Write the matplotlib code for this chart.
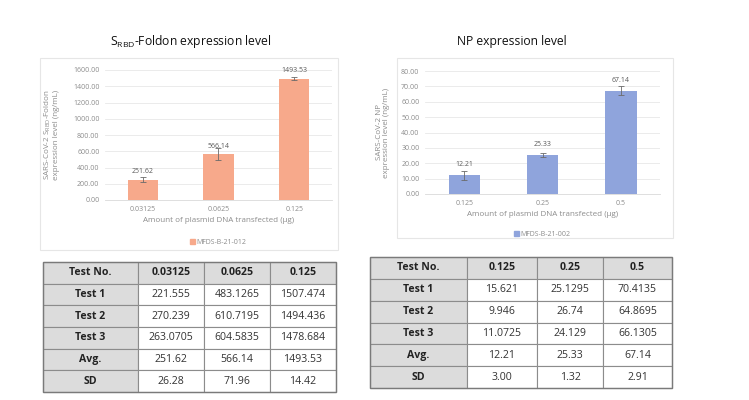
import numpy as np
import matplotlib.pyplot as plt
from matplotlib.patches import Rectangle

plt.rcParams['font.family'] = ['Open Sans', 'DejaVu Sans']

# data
s_doses = ["0.03125", "0.0625", "0.125"]
s_test1 = [221.555, 483.1265, 1507.474]
s_test2 = [270.239, 610.7195, 1494.436]
s_test3 = [263.0705, 604.5835, 1478.684]
s_avg = [251.62, 566.14, 1493.53]
s_sd = [26.28, 71.96, 14.42]

np_doses = ["0.125", "0.25", "0.5"]
np_test1 = [15.621, 25.1295, 70.4135]
np_test2 = [9.946, 26.74, 64.8695]
np_test3 = [11.0725, 24.129, 66.1305]
np_avg = [12.21, 25.33, 67.14]
np_sd = [3.00, 1.32, 2.91]

W, H = 749, 400
fig = plt.figure(figsize=(W / 100, H / 100), dpi=100)


def box(x0, y0, x1, y1):
    # pixel box (top-left origin) -> figure fraction rect
    return [x0 / W, 1 - y1 / H, (x1 - x0) / W, (y1 - y0) / H]


def panel(x0, y0, x1, y1):
    r = box(x0, y0, x1, y1)
    fig.patches.append(Rectangle((r[0], r[1]), r[2], r[3], transform=fig.transFigure,
                                 fill=False, edgecolor='#E6E6E6', linewidth=0.8))


def bar_chart(rect, doses, avg, sd, color, ymax, step, ylabel, legend, label_off, ylab_x):
    ax = fig.add_axes(rect)
    x = np.arange(len(doses))
    ax.bar(x, avg, width=0.4, color=color, zorder=2)
    ax.errorbar(x, avg, yerr=sd, fmt='none', ecolor='#6A6A6A', elinewidth=0.6,
                capsize=2, capthick=0.6, zorder=3)
    for xi, v in zip(x, avg):
        ax.annotate(f"{v:.2f}", (xi, v), xytext=(0, label_off), textcoords='offset points',
                    ha='center', va='bottom', fontsize=5, color='#595959')
    ax.set_xlim(-0.5, len(doses) - 0.5)
    ax.set_ylim(0, ymax)
    ticks = np.arange(0, ymax + step / 2, step)
    ax.set_yticks(ticks)
    ax.set_yticklabels([f"{t:.2f}" for t in ticks], fontsize=5, color='#8C8C8C')
    ax.set_xticks(x)
    ax.set_xticklabels(doses, fontsize=5, color='#8C8C8C')
    ax.tick_params(length=0, pad=4)
    ax.grid(axis='y', color='#E8E8E8', linewidth=0.6, zorder=0)
    for s in ['top', 'right', 'left']:
        ax.spines[s].set_visible(False)
    ax.spines['bottom'].set_color('#D9D9D9')
    ax.spines['bottom'].set_linewidth(0.6)
    ax.set_xlabel("Amount of plasmid DNA transfected (\u03bcg)", fontsize=5.8,
                  color='#8C8C8C', labelpad=3)
    ax.set_ylabel(ylabel, fontsize=5.8, color='#8C8C8C', linespacing=1.0)
    ax.yaxis.set_label_coords(ylab_x, 0.5)
    leg = ax.legend([Rectangle((0, 0), 1, 1, color=color)], [legend], loc='upper center',
                    bbox_to_anchor=(0.5, -0.25), frameon=False, fontsize=5,
                    handlelength=0.6, handleheight=0.6, handletextpad=0.3)
    for t in leg.get_texts():
        t.set_color('#8C8C8C')
    return ax


def data_table(rect, doses, t1, t2, t3, avg, sd, col_w):
    ax = fig.add_axes(rect)
    ax.axis('off')
    rows = [["Test No."] + doses,
            ["Test 1"] + [str(v) for v in t1],
            ["Test 2"] + [str(v) for v in t2],
            ["Test 3"] + [str(v) for v in t3],
            ["Avg."] + [f"{v:.2f}" for v in avg],
            ["SD"] + [f"{v:.2f}" for v in sd]]
    tb = ax.table(cellText=rows, bbox=[0, 0, 1, 1], cellLoc='center', colWidths=col_w)
    tb.auto_set_font_size(False)
    for (r, c), cell in tb.get_celld().items():
        cell.set_edgecolor('#8C8C8C')
        cell.set_linewidth(0.8)
        txt = cell.get_text()
        txt.set_fontsize(7.6)
        txt.set_color('#333333')
        if r == 0 or c == 0:
            cell.set_facecolor('#DCDCDC')
            txt.set_fontweight('bold')
            txt.set_color('#222222')
    ax.add_patch(Rectangle((0, 0), 1, 1, transform=ax.transAxes, fill=False,
                           edgecolor='#7A7A7A', linewidth=1.0, zorder=5, clip_on=False))


# left: S_RBD-Foldon
panel(40, 58, 338, 250)
fig.text(191 / W, 1 - 42 / H, r"S$_\mathregular{RBD}$-Foldon expression level",
         ha='center', va='center', fontsize=8.7, color='#111111')
bar_chart(box(105, 70, 332, 200), s_doses, s_avg, s_sd, '#F7A98B', 1600, 200,
          "SARS-CoV-2 S$_\\mathregular{RBD}$-Foldon\nexpression level (ng/mL)",
          "MFDS-B-21-012", 3, -0.2)
data_table(box(43, 262, 336, 392), s_doses, s_test1, s_test2, s_test3, s_avg, s_sd,
           [95, 66, 66, 66])

# right: NP
panel(397, 58, 673, 238)
fig.text(512 / W, 1 - 42 / H, "NP expression level",
         ha='center', va='center', fontsize=8.7, color='#111111')
bar_chart(box(425, 71, 660, 194), np_doses, np_avg, np_sd, '#8FA4DC', 80, 10,
          "SARS-CoV-2 NP\nexpression level (ng/mL)",
          "MFDS-B-21-002", 5, -0.15)
data_table(box(370, 257, 672, 388), np_doses, np_test1, np_test2, np_test3, np_avg, np_sd,
           [97, 70, 66, 69])

fig.savefig("out.png", dpi=100)
